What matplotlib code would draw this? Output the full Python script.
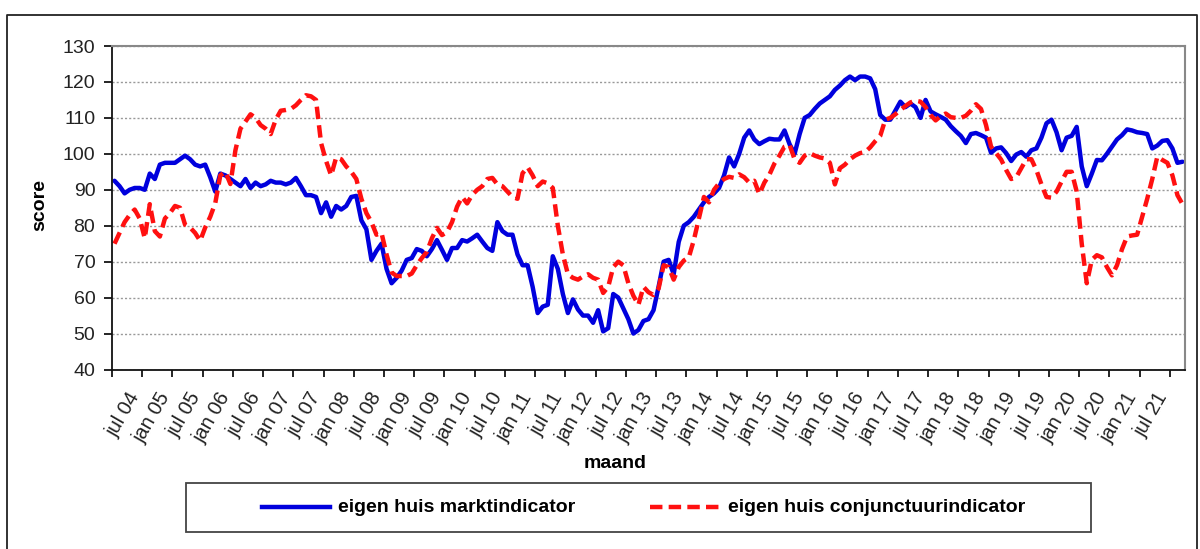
import matplotlib.pyplot as plt
import numpy as np
from matplotlib.lines import Line2D
from matplotlib.patches import Rectangle

# maandcijfers vanaf juli 2004
markt = [
    92.5, 91, 89, 90, 90.5, 90.5, 90, 94.5, 93, 97, 97.5, 97.5,
    97.5, 98.5, 99.5, 98.5, 97, 96.5, 97, 93.5, 89.5, 94.5, 94, 93,
    92, 91, 93, 90.5, 92, 91, 91.5, 92.5, 92, 92, 91.5, 92,
    93.3, 91, 88.5, 88.5, 88, 83.5, 86.5, 82.5, 85.5, 84.5, 85.5, 88,
    88.3, 81.5, 79, 70.5, 73, 75, 68, 64, 65.5, 67.5, 70.5, 71,
    73.5, 73, 71.5, 73.5, 76, 73.3, 70.5, 73.8, 73.8, 76, 75.6, 76.5,
    77.5, 75.6, 73.8, 73, 81, 78.5, 77.5, 77.5, 72, 69, 69, 63,
    55.7, 57.5, 58, 71.5, 68, 61, 55.7, 59.5, 56.7, 55, 55, 53,
    56.5, 50.6, 51.5, 61, 60, 57, 54, 50, 51, 53.5, 54, 56.5,
    63, 70, 70.5, 66.5, 75.5, 80, 81, 82.5, 84.5, 86.5, 88, 89,
    90.5, 94, 99, 96.5, 100, 104.5, 106.5, 104, 102.7, 103.5, 104.2, 104,
    104, 106.5, 102.7, 100, 105.5, 110, 110.8, 112.5, 114, 115, 116, 117.8,
    119, 120.5, 121.5, 120.5, 121.5, 121.5, 121, 118, 110.8, 109.5, 109.5, 112,
    114.5, 113, 114, 113, 110, 115, 111.8, 111, 110.3, 109.5, 107.7, 106.3,
    105, 103, 105.5, 105.8, 105.2, 104.5, 100.3, 101.5, 101.8, 100.2, 98, 99.8,
    100.5, 99.2, 101, 101.5, 104.5, 108.5, 109.5, 106, 101, 104.5, 105, 107.5,
    96.5, 91, 94.5, 98.3, 98.2, 100, 102, 104, 105.2, 106.8, 106.5, 106,
    105.8, 105.5, 101.5, 102.3, 103.6, 103.8, 101.5, 97.5, 97.8,
]
conjunctuur = [
    75, 78, 81, 83, 84.5, 82, 76.5, 86, 78.5, 77, 82, 83.5,
    85.5, 85, 80.3, 79.5, 78, 75.8, 79.5, 82.5, 86.3, 94, 95, 91.6,
    101, 107, 109, 111, 110, 108, 107, 105.5, 109.5, 112, 112.2, 112.5,
    113.5, 115, 116.3, 116, 115, 103, 98, 94, 99, 98.5, 96.5, 95,
    93, 87.5, 83.5, 81, 77.5, 78, 72, 67, 66, 66, 66, 66.7,
    69, 71, 72.7, 76.5, 79.4, 77.4, 78.2, 81, 85.3, 88, 86.2, 88.6,
    90, 91, 93, 93.3, 91.5, 91, 89.5, 88, 87.5, 94.6, 96.3, 94,
    91, 92.3, 91.8, 90.5, 80, 72, 66.5, 65.5, 65, 65.9, 66.5, 65.5,
    65, 61.3, 63, 68.5, 70, 69, 64, 60.5, 58, 63, 61.5, 60.7,
    62.5, 69, 68.5, 65, 68.5, 70.3, 71.2, 76, 82, 88, 86.5, 90,
    91.8, 93, 93.6, 93.3, 94.3, 93.5, 92, 92.5, 88.8, 92, 94.2, 97.3,
    99.5, 102, 102.5, 98.5, 97.5, 99.5, 100.2, 99.5, 99, 98.7, 97.5, 91.5,
    96, 97, 98.5, 99.5, 100.2, 100.5, 101.8, 103.5, 105, 109.5, 110, 111,
    112.2, 113.3, 114.3, 114.8, 114.5, 113, 110.8, 109.3, 110.5, 111.2, 110.2, 110,
    110, 110.6, 112, 113.8, 112.5, 108, 102, 100.2, 98.4, 95.5, 93, 93.5,
    96, 98.5, 98.5, 95.5, 91.5, 88, 87.8, 89.5, 92.3, 95, 95, 89.5,
    75, 64, 70.5, 71.8, 71.2, 68.5, 66.2, 69, 73.5, 77, 77.3, 77.5,
    82.5, 87.5, 93, 99.2, 98.3, 97.5, 94, 88.5, 86,
]
labels = []
for jr in range(4, 22):
    if jr > 4:
        labels.append('jan %02d' % jr)
    labels.append('jul %02d' % jr)

blauw = '#0000dd'
rood = '#ff1010'
streep = (2.8, 1.4)

plt.rcParams['font.family'] = ['Liberation Sans', 'DejaVu Sans']

fig = plt.figure(figsize=(12, 5.49), dpi=100)
ax = fig.add_axes([112 / 1200, 1 - 369.5 / 549, 1073 / 1200, 323.5 / 549])

x = np.arange(len(markt))
ax.plot(x, markt, color=blauw, lw=3.2, solid_joinstyle='round',
        solid_capstyle='round')
ax.plot(x, conjunctuur, color=rood, lw=3.2, dashes=streep,
        dash_capstyle='butt')

ax.set_ylim(40, 130)
ax.set_yticks(range(40, 131, 10))
ax.set_xlim(-0.5, len(markt) - 0.5)

# streepjes tussen de perioden, labels in het midden
ax.set_xticks(np.arange(-0.5, len(markt), 6))
ax.set_xticklabels([])
ax.set_xticks(np.arange(2.5, 6 * len(labels), 6), minor=True)
ax.set_xticklabels(labels, minor=True, rotation=60, ha='right', va='top',
                   rotation_mode='anchor', fontsize=14.5, color='#222222')
ax.tick_params(axis='x', which='minor', length=0, pad=14)
ax.tick_params(axis='x', which='major', length=5, width=1.2, direction='out')
ax.tick_params(axis='y', length=6, width=1.2, direction='out', pad=6,
               labelsize=14, labelcolor='#222222')

ax.grid(axis='y', color='#999999', linestyle=(0, (1.5, 1.5)), lw=1)
ax.set_axisbelow(True)

for s in ['top', 'right']:
    ax.spines[s].set_color('#888888')
    ax.spines[s].set_linewidth(1.5)
for s in ['left', 'bottom']:
    ax.spines[s].set_color('#111111')
    ax.spines[s].set_linewidth(1.3)

fig.text(40 / 1200, 1 - 205 / 549, 'score', rotation=90, fontsize=14,
         fontweight='bold', ha='center', va='center')
fig.text(615 / 1200, 1 - 463 / 549, 'maand', fontsize=14,
         fontweight='bold', ha='center', va='center')

# legenda en rand, getekend in pixelcoordinaten
ov = fig.add_axes([0, 0, 1, 1], zorder=-1)
ov.set_xlim(0, 1200)
ov.set_ylim(549, 0)
ov.axis('off')
ov.add_patch(Rectangle((186, 483), 905, 49, fill=False, ec='#444444', lw=1.3))
ov.plot([262, 330], [507, 507], color=blauw, lw=3.2)
ov.text(338, 507, 'eigen huis marktindicator', fontsize=14, fontweight='bold',
        va='center', ha='left')
ov.plot([650, 722], [507, 507], color=rood, lw=3.2, dashes=streep)
ov.text(728, 507, 'eigen huis conjunctuurindicator', fontsize=14,
        fontweight='bold', va='center', ha='left')
ov.plot([7, 7, 1197, 1197], [549, 15, 15, 549], color='#222222', lw=1.3)

plt.savefig('out.png', dpi=100)
plt.close('all')
